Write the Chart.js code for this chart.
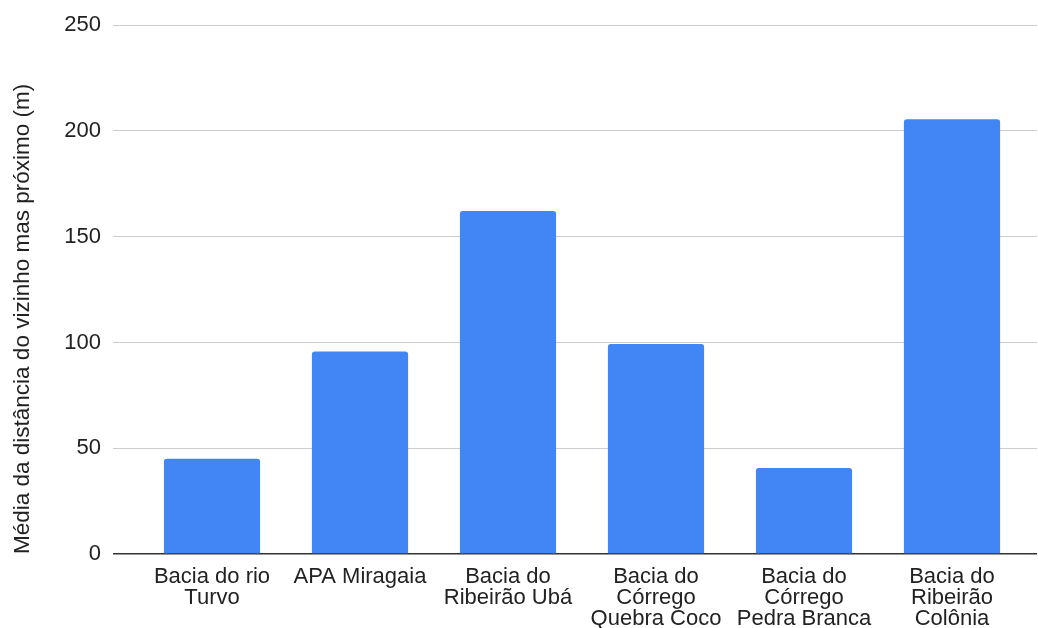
<!DOCTYPE html>
<html>
<head>
<meta charset="utf-8">
<script src="https://cdn.jsdelivr.net/npm/chart.js@4"></script>
<style>
html,body{margin:0;padding:0;background:#fff;}
#wrap{width:1038px;height:628px;}
</style>
</head>
<body>
<div id="wrap"><canvas id="c" width="1038" height="628"></canvas></div>
<script>
const categories = [
  ["Bacia do rio", "Turvo"],
  ["APA Miragaia"],
  ["Bacia do", "Ribeirão Ubá"],
  ["Bacia do", "Córrego", "Quebra Coco"],
  ["Bacia do", "Córrego", "Pedra Branca"],
  ["Bacia do", "Ribeirão", "Colônia"]
];
const values = [45, 95.7, 162.2, 99.3, 40.6, 205.5];
const yTicks = [0, 50, 100, 150, 200, 250];
const yTitle = "Média da distância do vizinho mas próximo (m)";

const FONT = "'Liberation Sans', Arial, sans-serif";
const gridColor = ctx => (ctx.tick && ctx.tick.value === 0) ? '#333333' : '#cccccc';
const gridWidth = ctx => (ctx.tick && ctx.tick.value === 0) ? 1.5 : 1;

new Chart(document.getElementById('c'), {
  type: 'bar',
  data: {
    labels: categories,
    datasets: [{
      data: values,
      backgroundColor: '#4285F4',
      borderRadius: {topLeft: 3, topRight: 3, bottomLeft: 0, bottomRight: 0},
      borderSkipped: 'start',
      categoryPercentage: 0.65,
      barPercentage: 1.0
    }]
  },
  options: {
    responsive: false,
    animation: false,
    devicePixelRatio: 1,
    layout: {padding: {left: 0, right: 1, top: 25, bottom: 0}},
    plugins: {legend: {display: false}, tooltip: {enabled: false}},
    scales: {
      x: {
        grid: {display: false},
        border: {display: false},
        ticks: {
          color: '#222222',
          font: {family: FONT, size: 22, lineHeight: 0.97},
          padding: 4,
          maxRotation: 0,
          autoSkip: false
        },
        afterFit: s => { s.height = 74; }
      },
      y: {
        min: 0, max: 250,
        afterBuildTicks: s => { s.ticks = yTicks.map(v => ({value: v})); },
        grid: {color: gridColor, lineWidth: gridWidth, drawTicks: true, tickLength: 25},
        border: {display: false},
        ticks: {color: '#222222', font: {family: FONT, size: 22}, padding: 12},
        title: {display: true, text: yTitle, align: 'start', color: '#222222', font: {family: FONT, size: 22.5}, padding: {top: 9, bottom: 4}},
        afterFit: s => { s.width = 138; }
      },
      y2: {
        position: 'right',
        min: 0, max: 250,
        afterBuildTicks: s => { s.ticks = yTicks.map(v => ({value: v})); },
        grid: {color: gridColor, lineWidth: gridWidth, drawOnChartArea: false, drawTicks: true, tickLength: 11},
        border: {display: false},
        ticks: {display: false},
        afterFit: s => { s.width = 11; }
      }
    }
  }
});
</script>
</body>
</html>
